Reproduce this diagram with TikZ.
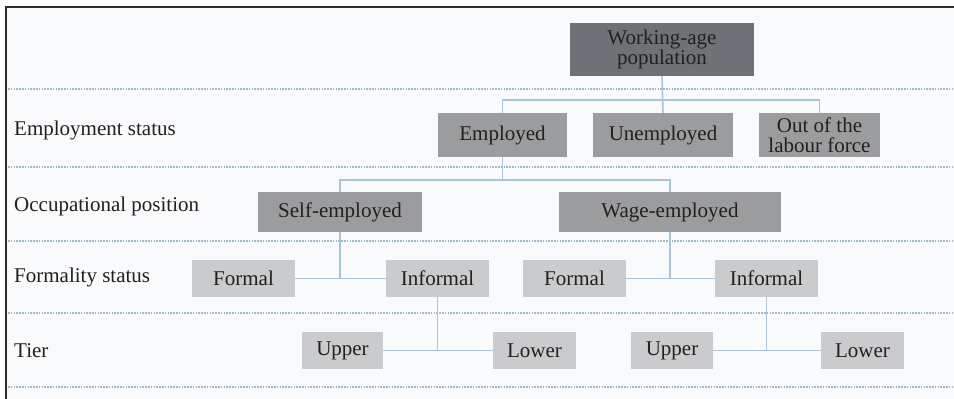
\documentclass[tikz,border=0pt]{standalone}
\usepackage{fontspec}
\setmainfont{Liberation Serif}
\definecolor{bgc}{HTML}{F9FAFC}
\definecolor{darkbox}{HTML}{6E7276}
\definecolor{midbox}{HTML}{9A9C9E}
\definecolor{lightbox}{HTML}{C9CBCD}
\definecolor{conn}{HTML}{A8C6D6}
\definecolor{sep}{HTML}{9FB8C8}
\definecolor{txt}{HTML}{231F20}
\definecolor{frame}{HTML}{2E2E2E}
\tikzset{
  box/.style={rectangle, draw=none, inner sep=0pt, align=center, text=txt,
    font=\fontsize{21}{20}\selectfont},
  dbox/.style={box, fill=darkbox},
  mbox/.style={box, fill=midbox},
  lbox/.style={box, fill=lightbox},
  rowlabel/.style={anchor=west, inner sep=0pt, text=txt, font=\fontsize{21}{24}\selectfont},
  connector/.style={draw=conn, line width=1.6pt},
  sepline/.style={draw=sep, line width=1.6pt, dash pattern=on 1.6pt off 1.2pt},
}
\begin{document}
\begin{tikzpicture}[x=1pt,y=-1pt]
\useasboundingbox (0,0) rectangle (954,399);
\fill[white] (0,0) rectangle (954,399);
\fill[bgc] (7,8) rectangle (954,399);
% separators
\foreach \yy in {89,167,241,313,387} \draw[sepline] (8,\yy) -- (954,\yy);
% frame
\draw[frame, line width=2.2pt] (6,399) -- (6,7) -- (954,7);
% row labels
\node[rowlabel] (lab1) at (14,130) {Employment status};
\node[rowlabel] (lab2) at (14,206) {Occupational position};
\node[rowlabel] (lab3) at (14,277) {Formality status};
\node[rowlabel] (lab4) at (14,351) {Tier};
% boxes
\node[dbox, minimum width=184, minimum height=53] (wap) at (662,49.5) {Working-age\\population};
\node[mbox, minimum width=129, minimum height=44] (emp) at (502.5,135) {Employed};
\node[mbox, minimum width=140, minimum height=44] (unemp) at (663,135) {Unemployed};
\node[mbox, minimum width=121, minimum height=44] (olf) at (819.5,135) {Out of the\\labour force};
\node[mbox, minimum width=164, minimum height=40] (self) at (340,212) {Self-employed};
\node[mbox, minimum width=222, minimum height=40] (wage) at (670,212) {Wage-employed};
\node[lbox, minimum width=103, minimum height=37] (fl) at (243.5,278.5) {Formal};
\node[lbox, minimum width=103, minimum height=37] (il) at (437.5,278.5) {Informal};
\node[lbox, minimum width=103, minimum height=37] (fr) at (574.5,278.5) {Formal};
\node[lbox, minimum width=103, minimum height=37] (ir) at (766.5,278.5) {Informal};
\node[lbox, minimum width=81, minimum height=37] (ul) at (342.5,350.5) {Upper};
\node[lbox, minimum width=83, minimum height=37] (ll) at (534.5,350.5) {Lower};
\node[lbox, minimum width=82, minimum height=37] (ur) at (672,350.5) {Upper};
\node[lbox, minimum width=83, minimum height=37] (lr) at (862.5,350.5) {Lower};
% connectors
\coordinate (j1) at (wap.south |- 0,100);
\draw[connector] (wap.south) -- (unemp.north);
\draw[connector] (emp.north) |- (j1) -| (olf.north);
\coordinate (j2) at (emp.south |- 0,180);
\draw[connector] (emp.south) -- (j2);
\draw[connector] (self.north) |- (j2) -| (wage.north);
\draw[connector] (self.south) -- (self.south |- fl.east);
\draw[connector] (fl.east) -- (il.west);
\draw[connector] (wage.south) -- (wage.south |- fr.east);
\draw[connector] (fr.east) -- (ir.west);
\draw[connector] (il.south) -- (il.south |- ul.east);
\draw[connector] (ul.east) -- (ll.west);
\draw[connector] (ir.south) -- (ir.south |- ur.east);
\draw[connector] (ur.east) -- (lr.west);
\end{tikzpicture}
\end{document}
